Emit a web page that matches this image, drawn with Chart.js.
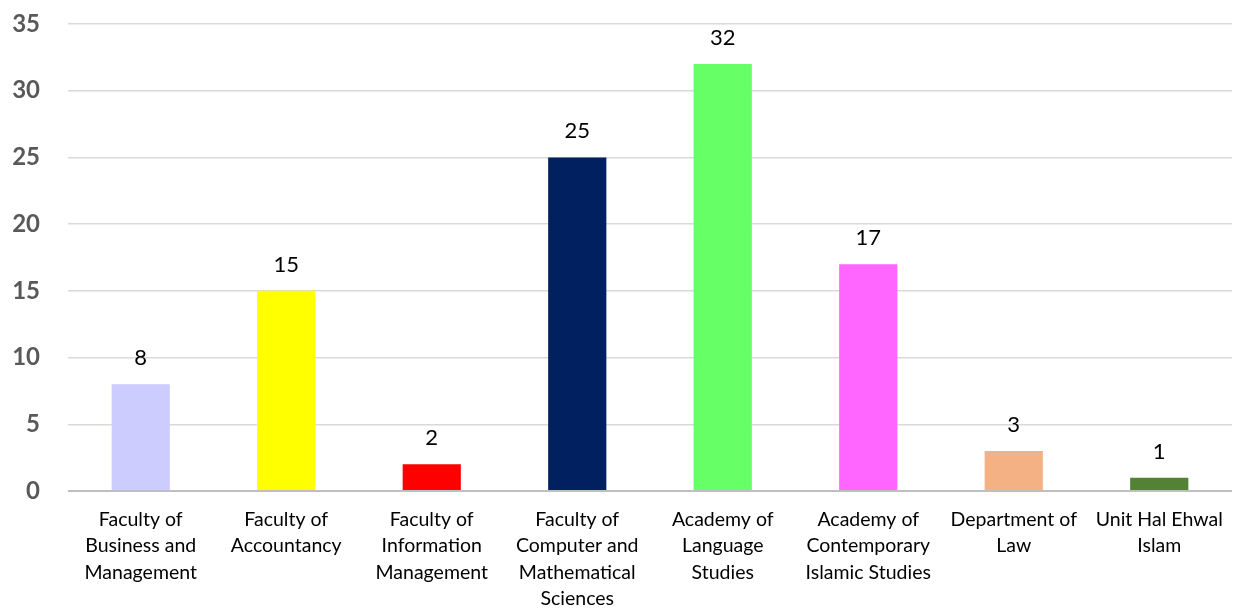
<!DOCTYPE html>
<html>
<head>
<meta charset="utf-8">
<script src="https://cdn.jsdelivr.net/npm/chart.js@4"></script>
<style>
  html, body { margin: 0; padding: 0; background: #fff; }
  #wrap { width: 1234px; height: 608px; }
</style>
</head>
<body>
<div id="wrap"><canvas id="deptChart"></canvas></div>
<script>
const categories = [
    ['Faculty of', 'Business and', 'Management'],
    ['Faculty of', 'Accountancy'],
    ['Faculty of', 'Information', 'Management'],
    ['Faculty of', 'Computer and', 'Mathematical', 'Sciences'],
    ['Academy of', 'Language', 'Studies'],
    ['Academy of', 'Contemporary', 'Islamic Studies'],
    ['Department of', 'Law'],
    ['Unit Hal Ehwal', 'Islam']
];
const counts = [8, 15, 2, 25, 32, 17, 3, 1];
const barColors = ['#ccccff', '#ffff00', '#ff0000', '#002060', '#66ff66', '#ff66ff', '#f4b183', '#548235'];
const yTicks = [0, 5, 10, 15, 20, 25, 30, 35];

const FONT = "Lato, 'Open Sans', sans-serif";

// value labels above each bar
const valueLabels = {
    id: 'valueLabels',
    afterDatasetsDraw(chart) {
        const ctx = chart.ctx;
        const meta = chart.getDatasetMeta(0);
        ctx.save();
        ctx.font = '22px ' + FONT;
        ctx.fillStyle = '#000000';
        ctx.textAlign = 'center';
        ctx.textBaseline = 'alphabetic';
        meta.data.forEach((bar, i) => {
            ctx.fillText(String(counts[i]), bar.x, bar.y - 19);
        });
        ctx.restore();
    }
};

new Chart(document.getElementById('deptChart'), {
    type: 'bar',
    data: {
        labels: categories,
        datasets: [{
            data: counts,
            backgroundColor: barColors,
            borderWidth: 0,
            barPercentage: 0.8,
            categoryPercentage: 0.5
        }]
    },
    options: {
        responsive: true,
        maintainAspectRatio: false,
        animation: false,
        layout: { padding: { top: 0, right: 2, left: 8, bottom: 0 } },
        plugins: {
            legend: { display: false },
            tooltip: { enabled: false }
        },
        scales: {
            x: {
                afterFit: axis => { axis.height = 117; },
                grid: { display: false },
                border: { display: false },
                ticks: {
                    color: '#000000',
                    font: { family: FONT, size: 19.5, lineHeight: 1.34 },
                    maxRotation: 0,
                    autoSkip: false,
                    padding: 8
                }
            },
            y: {
                min: 0,
                max: 35,
                afterBuildTicks: axis => { axis.ticks = yTicks.map(v => ({ value: v })); },
                afterFit: axis => {
                    axis.width = 60;
                    axis.paddingTop = 24;
                    axis.paddingBottom = 12;
                },
                border: { display: false },
                grid: {
                    color: c => c.tick && c.tick.value === 0 ? '#bfbfbf' : '#d9d9d9',
                    lineWidth: c => c.tick && c.tick.value === 0 ? 2 : 1.5,
                    drawTicks: false
                },
                ticks: {
                    color: '#595959',
                    font: { family: FONT, size: 24, weight: 'bold' },
                    padding: 28
                }
            }
        }
    },
    plugins: [valueLabels]
});
</script>
</body>
</html>
